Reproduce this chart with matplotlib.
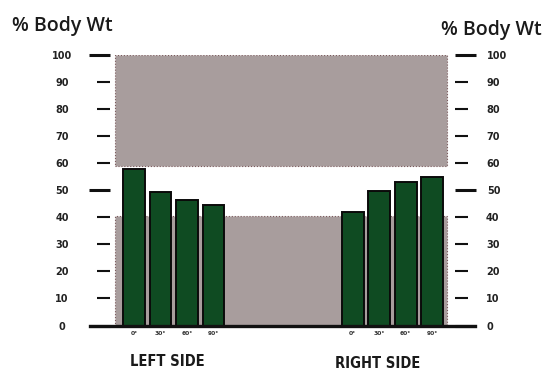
import matplotlib
matplotlib.use("Agg")
import matplotlib.pyplot as plt
from matplotlib.ticker import FixedLocator, FixedFormatter

# ---- data ----
angles = ["0°", "30°", "60°", "90°"]
left_values = [57.7, 49.5, 46.5, 44.4]
right_values = [42.0, 49.8, 53.0, 54.8]
band_low = (0, 40.5)     # lower grey zone (bottom, top)
band_high = (59, 100)    # upper grey zone (bottom, top)
group_labels = ["LEFT SIDE", "RIGHT SIDE"]
major_ticks = [0, 50, 100]
minor_ticks = [10, 20, 30, 40, 60, 70, 80, 90]

left_pos = [0, 1, 2, 3]
right_pos = [8.25, 9.25, 10.25, 11.25]

W, H = 546, 376
fig = plt.figure(figsize=(W / 100, H / 100), dpi=100)
ax_l, ax_r = 110, 455
y0, y100 = 325.5, 55
ax = fig.add_axes([ax_l / W, (H - y0) / H, (ax_r - ax_l) / W, (y0 - y100) / H])
ax.set_ylim(0, 100)
ax.set_xlim((ax_l - 134) / 26.5, (ax_r - 134) / 26.5)

grey = "#a89d9d"
green = "#0f4b22"
edge = "#7a5a5c"
span_x0, span_x1 = -0.7, 11.8
ax.bar((span_x0 + span_x1) / 2, band_high[1] - band_high[0], bottom=band_high[0],
       width=span_x1 - span_x0, color=grey, edgecolor=edge, linewidth=0.8,
       linestyle=":", zorder=1)
ax.bar((span_x0 + span_x1) / 2, band_low[1] - band_low[0], bottom=band_low[0],
       width=span_x1 - span_x0, color=grey, edgecolor=edge, linewidth=0.8,
       linestyle=":", zorder=1)

bw = 0.83
ax.bar(left_pos, left_values, width=bw, color=green, edgecolor="#0a0a0a",
       linewidth=1.4, zorder=3)
ax.bar(right_pos, right_values, width=bw, color=green, edgecolor="#0a0a0a",
       linewidth=1.4, zorder=3)

# baseline
ax.axhline(0, xmin=(90 - ax_l) / (ax_r - ax_l), xmax=(475 - ax_l) / (ax_r - ax_l),
           color="#111111", linewidth=2.4, clip_on=False, zorder=4)

for s in ax.spines.values():
    s.set_visible(False)

tick_font = dict(family="DejaVu Sans", weight="bold", size=7)

# left axis ticks
ax.yaxis.set_major_locator(FixedLocator(major_ticks))
ax.yaxis.set_major_formatter(FixedFormatter([str(v) for v in major_ticks]))
ax.yaxis.set_minor_locator(FixedLocator(minor_ticks))
ax.yaxis.set_minor_formatter(FixedFormatter([str(v) for v in minor_ticks]))
ax.tick_params(axis="y", which="major", direction="out", length=15, width=2.2,
               pad=19.4, colors="#111111", labelcolor="#222222")
ax.tick_params(axis="y", which="minor", direction="out", length=9.4, width=1.5,
               pad=25.2, colors="#111111", labelcolor="#222222")
for lab in ax.get_yticklabels(which="both"):
    lab.set_horizontalalignment("center")
    lab.set_fontfamily(tick_font["family"])
    lab.set_fontweight(tick_font["weight"])
    lab.set_fontsize(tick_font["size"])

# right axis
ax2 = ax.twinx()
ax2.set_ylim(0, 100)
for s in ax2.spines.values():
    s.set_visible(False)
ax2.yaxis.set_major_locator(FixedLocator(major_ticks))
ax2.yaxis.set_major_formatter(FixedFormatter([str(v) for v in major_ticks]))
ax2.yaxis.set_minor_locator(FixedLocator(minor_ticks))
ax2.yaxis.set_minor_formatter(FixedFormatter([str(v) for v in minor_ticks]))
ax2.tick_params(axis="y", which="major", direction="out", length=15, width=2.2,
                pad=8, colors="#111111", labelcolor="#222222")
ax2.tick_params(axis="y", which="minor", direction="out", length=9.4, width=1.5,
                pad=13, colors="#111111", labelcolor="#222222")
for lab in ax2.get_yticklabels(which="both"):
    lab.set_fontfamily(tick_font["family"])
    lab.set_fontweight(tick_font["weight"])
    lab.set_fontsize(tick_font["size"])

# x tick labels (angles)
ax.set_xticks(left_pos + right_pos)
ax.set_xticklabels(angles + angles, fontsize=4.3, fontweight="bold", color="#333333")
ax.tick_params(axis="x", length=0, pad=4)

# group labels
for x, y, txt in [(167, 362, group_labels[0]), (378, 364, group_labels[1])]:
    fig.text(x / W, 1 - y / H, txt, ha="center", va="center",
             fontsize=10.5, fontweight="bold", fontstretch="condensed",
             family="DejaVu Sans", color="#1a1a1a")

# axis titles
for x, y in [(12, 31), (441, 35)]:
    fig.text(x / W, 1 - y / H, "% Body Wt", ha="left", va="baseline",
             fontsize=14, fontweight="semibold", family=["Open Sans", "DejaVu Sans"],
             color="#1a1a1a")

fig.savefig("out.png", dpi=100)
